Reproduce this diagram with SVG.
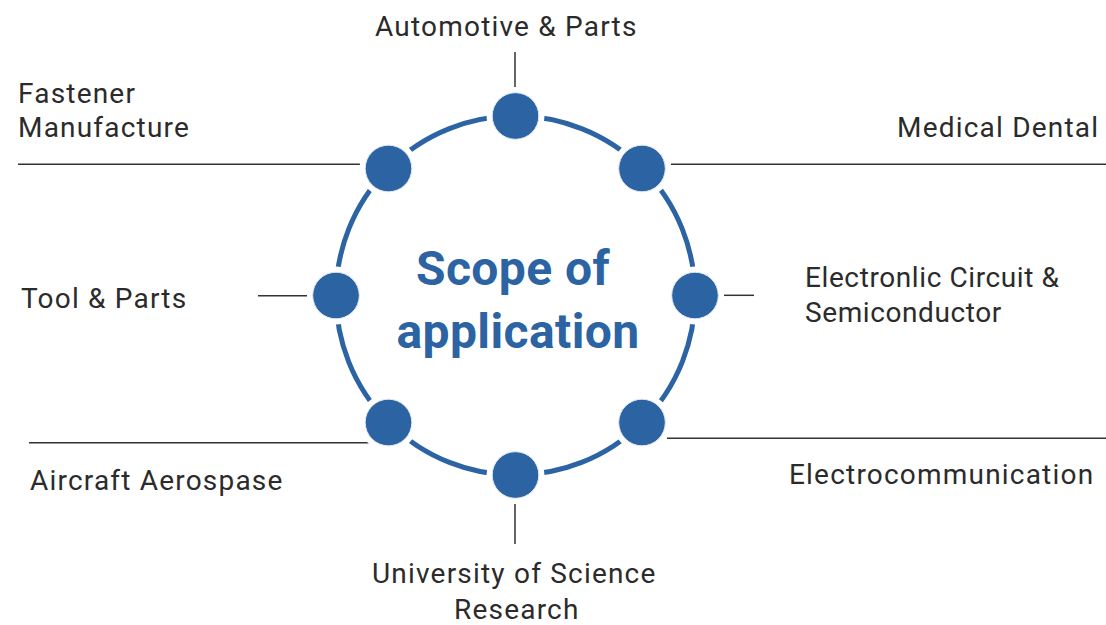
<svg xmlns="http://www.w3.org/2000/svg" width="1106" height="625" viewBox="0 0 1106 625">
<style>
.lbl{font-family:Roboto,"Liberation Sans",sans-serif;font-size:28px;letter-spacing:1.2px;fill:#2b2b2b}
.tight{letter-spacing:0.6px}
.title{font-family:Roboto,"Liberation Sans",sans-serif;font-size:48px;letter-spacing:0.4px;font-weight:bold;fill:#2b63a3}
.ln{stroke:#333;stroke-width:1.5;fill:none}
.halo{fill:#fff}
.dot{fill:#2b63a3;stroke:#dfe7f1;stroke-width:1}
</style>
<rect width="1106" height="625" fill="#fff"/>
<g id="connectors">
<circle cx="515.5" cy="295.5" r="179.5" fill="none" stroke="#2b63a3" stroke-width="5"/>
<line class="ln" x1="515" y1="52" x2="515" y2="88"/>
<line class="ln" x1="18" y1="164.3" x2="360" y2="164.3"/>
<line class="ln" x1="671" y1="164.3" x2="1106" y2="164.3"/>
<line class="ln" x1="258" y1="295.7" x2="307" y2="295.7"/>
<line class="ln" x1="724" y1="295.3" x2="754" y2="295.3"/>
<line class="ln" x1="29" y1="442.7" x2="369" y2="442.7"/>
<line class="ln" x1="667" y1="438.3" x2="1106" y2="438.3"/>
<line class="ln" x1="515" y1="504" x2="515" y2="544"/>
</g>
<g id="center">
<text class="title" x="513" y="285" text-anchor="middle">Scope of</text>
<text class="title" x="518" y="348" text-anchor="middle">application</text>
</g>
<g id="n-automotive">
<circle class="halo" cx="515.5" cy="116" r="29"/><circle class="dot" cx="515.5" cy="116" r="23.3"/>
<text class="lbl" x="375" y="36">Automotive &amp; Parts</text>
</g>
<g id="n-medical">
<circle class="halo" cx="642" cy="168.5" r="29"/><circle class="dot" cx="642" cy="168.5" r="23.3"/>
<text class="lbl" x="897" y="136.7">Medical Dental</text>
</g>
<g id="n-electronic">
<circle class="halo" cx="695" cy="295.5" r="29"/><circle class="dot" cx="695" cy="295.5" r="23.3"/>
<text class="lbl tight" x="805" y="287.3">Electronlic Circuit &amp;</text>
<text class="lbl tight" x="805" y="321.7">Semiconductor</text>
</g>
<g id="n-electrocomm">
<circle class="halo" cx="642" cy="422.5" r="29"/><circle class="dot" cx="642" cy="422.5" r="23.3"/>
<text class="lbl" x="789" y="484.3">Electrocommunication</text>
</g>
<g id="n-university">
<circle class="halo" cx="515.5" cy="475" r="29"/><circle class="dot" cx="515.5" cy="475" r="23.3"/>
<text class="lbl" x="372" y="583.3">University of Science</text>
<text class="lbl" x="454" y="619">Research</text>
</g>
<g id="n-aircraft">
<circle class="halo" cx="388.5" cy="422.5" r="29"/><circle class="dot" cx="388.5" cy="422.5" r="23.3"/>
<text class="lbl" x="30" y="490">Aircraft Aerospase</text>
</g>
<g id="n-tool">
<circle class="halo" cx="336" cy="295.5" r="29"/><circle class="dot" cx="336" cy="295.5" r="23.3"/>
<text class="lbl" x="21" y="307.7">Tool &amp; Parts</text>
</g>
<g id="n-fastener">
<circle class="halo" cx="388.5" cy="168.5" r="29"/><circle class="dot" cx="388.5" cy="168.5" r="23.3"/>
<text class="lbl" x="18" y="103.3">Fastener</text>
<text class="lbl" x="18" y="136.7">Manufacture</text>
</g>
</svg>
